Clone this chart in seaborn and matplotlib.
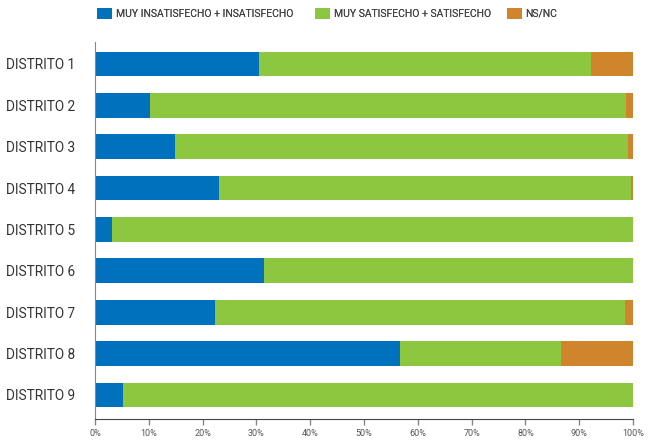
import numpy as np
import pandas as pd
import matplotlib.pyplot as plt
from matplotlib.patches import Patch
import seaborn as sns

distritos = ["DISTRITO 1", "DISTRITO 2", "DISTRITO 3", "DISTRITO 4", "DISTRITO 5",
             "DISTRITO 6", "DISTRITO 7", "DISTRITO 8", "DISTRITO 9"]
insatisfecho = [30.5, 10.2, 14.9, 23.0, 3.2, 31.4, 22.3, 56.7, 5.2]
satisfecho = [61.7, 88.5, 84.2, 76.6, 96.8, 68.6, 76.2, 29.9, 94.8]
nsnc = [7.8, 1.3, 0.9, 0.4, 0.0, 0.0, 1.5, 13.4, 0.0]
series_names = ["MUY INSATISFECHO + INSATISFECHO", "MUY SATISFECHO + SATISFECHO", "NS/NC"]
colors = ["#0071bc", "#8dc63f", "#d0842c"]

sns.set_style("white")
plt.rcParams['font.family'] = ['Roboto', 'DejaVu Sans']

df = pd.DataFrame({"distrito": distritos, "insat": insatisfecho,
                   "sat": satisfecho, "nsnc": nsnc})
df["c2"] = df["insat"] + df["sat"]
df["c3"] = df["c2"] + df["nsnc"]

fig = plt.figure(figsize=(6.48, 4.40), dpi=100)
ax = fig.add_axes([95 / 648, 1 - 419 / 440, 538 / 648, 377 / 440])

# stacked: draw cumulative totals back to front
sns.barplot(data=df, x="c3", y="distrito", color=colors[2], width=0.6,
            orient="h", ax=ax, saturation=1, linewidth=0)
sns.barplot(data=df, x="c2", y="distrito", color=colors[1], width=0.6,
            orient="h", ax=ax, saturation=1, linewidth=0)
sns.barplot(data=df, x="insat", y="distrito", color=colors[0], width=0.6,
            orient="h", ax=ax, saturation=1, linewidth=0)

ax.set_xlim(0, 100)
ax.set_ylim(8.58, -0.53)
ax.set_xlabel("")
ax.set_ylabel("")
ax.set_xticks(np.arange(0, 101, 10))
ax.set_xticklabels([f"{v}%" for v in range(0, 101, 10)])
ax.tick_params(axis="x", length=4, width=1, color="#888888", labelsize=6.5,
               labelcolor="#555555", bottom=True, pad=3)
ax.tick_params(axis="y", length=0, labelsize=9.8, labelcolor="#333333", pad=14)
sns.despine(ax=ax, top=True, right=True)
ax.spines["left"].set_color("#888888")
ax.spines["bottom"].set_color("#444444")

# one legend per entry so each sits where the reference puts it
legend_x = [88 / 648, 306 / 648, 498 / 648]
for i in range(3):
    leg = fig.legend([Patch(facecolor=colors[i], edgecolor="none")], [series_names[i]],
                     loc="upper left", bbox_to_anchor=(legend_x[i], 1.003),
                     frameon=False, fontsize=7.5, handlelength=1.4, handleheight=1.2,
                     handletextpad=0.35, labelcolor="#444444")
    fig.add_artist(leg)

fig.savefig("out.png", dpi=100)
